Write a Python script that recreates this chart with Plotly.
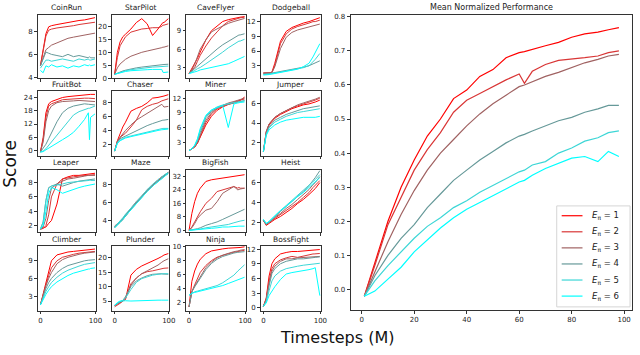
import plotly.graph_objects as go

W, H = 640, 355

# timesteps (M) sampled for the 16 small game panels
XS = [0, 5, 10, 15, 20, 30, 40, 50, 60, 70, 80, 87, 89, 91, 99]

# one list per game, rows are E_pi = 1..6
COINRUN = [
    [5.0, 6.5, 7.8, 8.4, 8.5, 8.6, 8.7, 8.8, 8.85, 8.95, 9.0, 9.05, 9.1, 9.1, 9.2],
    [5.0, 6.3, 7.6, 8.1, 8.2, 8.3, 8.35, 8.45, 8.5, 8.6, 8.65, 8.7, 8.75, 8.75, 8.8],
    [5.0, 5.8, 6.4, 6.6, 6.8, 7.0, 7.2, 7.4, 7.5, 7.6, 7.7, 7.75, 7.8, 7.8, 7.85],
    [5.0, 5.6, 6.2, 6.1, 6.0, 5.9, 5.8, 6.0, 5.8, 5.9, 5.8, 5.7, 5.8, 5.7, 5.7],
    [4.8, 5.2, 5.5, 5.5, 5.4, 5.5, 5.6, 5.5, 5.4, 5.6, 5.5, 5.6, 5.5, 5.5, 5.6],
    [4.6, 4.4, 5.0, 4.9, 5.1, 4.9, 5.0, 4.8, 5.0, 4.9, 5.1, 5.0, 5.1, 5.0, 5.1],
]
STARPILOT = [
    [1.5, 10, 14, 16, 17, 19, 21.5, 23, 21, 16.5, 19, 21, 21.5, 21.5, 23],
    [1.5, 8, 12.5, 14.5, 16, 17.8, 18.5, 19, 19.2, 19.5, 19.5, 20, 20.5, 20.5, 21],
    [1.5, 4, 5.5, 6.5, 7.3, 8.5, 9.3, 10, 10.5, 11, 11.2, 11.8, 12, 12, 12.5],
    [1.5, 2, 2.5, 2.8, 3.1, 3.6, 4.0, 4.3, 4.6, 4.9, 5.1, 5.3, 5.3, 5.3, 5.4],
    [1.5, 1.9, 2.3, 2.6, 2.9, 3.3, 3.6, 3.9, 4.1, 4.3, 4.4, 4.5, 4.6, 4.6, 4.7],
    [1.5, 1.8, 2.1, 2.4, 2.6, 2.9, 3.1, 3.2, 3.3, 3.4, 3.4, 3.4, 2.3, 2.2, 2.4],
]
CAVEFLYER = [
    [2, 2.8, 3.5, 4.5, 5.5, 7.5, 9.0, 9.8, 10.5, 10.8, 11.0, 11.2, 11.2, 11.2, 11.3],
    [2, 2.6, 3.0, 4.0, 5.0, 6.5, 7.8, 8.8, 9.8, 10.5, 10.8, 11.0, 11.0, 11.1, 11.2],
    [2, 2.6, 3.5, 4.7, 6.0, 7.5, 8.8, 9.3, 9.8, 10.2, 10.5, 10.7, 10.8, 10.8, 11.0],
    [2, 2.4, 2.8, 3.2, 3.6, 4.5, 5.3, 6.0, 6.7, 7.3, 7.8, 8.2, 8.3, 8.3, 8.5],
    [2, 2.2, 2.5, 2.8, 3.0, 3.6, 4.2, 4.9, 5.5, 6.2, 6.8, 7.2, 7.3, 7.3, 7.6],
    [2, 2.1, 2.3, 2.4, 2.6, 2.8, 3.0, 3.1, 3.3, 3.6, 4.0, 4.3, 4.4, 4.5, 4.8],
]
DODGEBALL = [
    [1.5, 1.5, 1.5, 1.7, 3.5, 8.0, 10.0, 10.8, 11.3, 11.7, 12.0, 12.3, 12.4, 12.4, 12.8],
    [1.5, 1.5, 1.5, 1.6, 3.0, 7.5, 9.5, 10.5, 11.0, 11.3, 11.7, 12.0, 12.0, 12.0, 12.3],
    [1.5, 1.5, 1.5, 1.6, 2.8, 6.5, 8.8, 9.8, 10.3, 10.6, 11.0, 11.2, 11.3, 11.3, 11.5],
    [1.3, 1.3, 1.4, 1.5, 1.6, 1.8, 2.0, 2.2, 2.4, 2.7, 3.0, 3.4, 3.5, 3.6, 4.0],
    [1.2, 1.2, 1.3, 1.4, 1.5, 1.7, 1.9, 2.1, 2.3, 2.6, 3.0, 3.8, 4.0, 4.3, 5.5],
    [1.1, 1.1, 1.2, 1.3, 1.4, 1.6, 1.8, 2.0, 2.3, 2.8, 3.5, 4.8, 5.2, 5.6, 7.5],
]
FRUITBOT = [
    [-0.5, 6, 17, 21, 22, 23, 23.8, 24.2, 24.5, 24.8, 25, 25.2, 25.2, 25.2, 25.2],
    [-0.5, 5, 15, 20, 21, 22, 22.8, 23, 23.2, 23.5, 23.5, 23.5, 23.5, 23.5, 23.3],
    [-0.5, 4, 13, 18, 20, 21.5, 22, 22, 22.3, 22.5, 22.3, 22, 22, 22, 22],
    [-0.5, 1, 3, 5.5, 8, 13, 17, 19, 20, 20.5, 21, 20.8, 20.8, 20.8, 20.5],
    [-0.5, 0, 1, 2.5, 4, 7, 10, 13, 16, 17.5, 18.5, 19, 19, 19.2, 20],
    [-0.5, -0.3, 0.5, 1.2, 2, 3.5, 5, 6.5, 8.3, 11, 14, 17, 5, 15, 16.5],
]
CHASER = [
    [1.0, 2.5, 3.5, 4.5, 5.2, 6.8, 7.2, 7.5, 8.0, 8.7, 8.8, 9.0, 9.0, 9.0, 9.2],
    [1.0, 2.4, 3.0, 3.3, 3.6, 4.5, 5.5, 7.0, 7.5, 7.8, 8.0, 8.3, 8.3, 8.4, 8.6],
    [1.0, 2.4, 3.0, 3.5, 4.0, 4.8, 5.5, 6.0, 6.5, 7.0, 7.5, 7.8, 7.6, 7.4, 7.5],
    [1.0, 2.3, 2.8, 3.0, 3.2, 3.6, 4.0, 4.4, 4.7, 5.0, 5.3, 5.5, 5.5, 5.5, 5.6],
    [1.0, 2.2, 2.6, 2.8, 3.0, 3.2, 3.4, 3.6, 3.8, 4.0, 4.1, 4.3, 4.3, 4.3, 4.3],
    [1.0, 2.1, 2.5, 2.7, 2.9, 3.1, 3.3, 3.5, 3.7, 3.9, 4.0, 4.1, 4.1, 4.1, 4.2],
]
MINER = [
    [1.3, 1.6, 2.0, 2.8, 4.0, 6.5, 8.3, 9.5, 10.2, 10.7, 11.0, 11.3, 11.4, 11.5, 12.2],
    [1.3, 1.6, 2.0, 2.8, 4.2, 7.0, 8.8, 9.8, 10.3, 10.8, 11.2, 11.4, 11.5, 11.6, 11.8],
    [1.3, 1.6, 2.1, 3.0, 4.5, 7.5, 9.0, 10.0, 10.5, 11.0, 11.3, 11.5, 11.6, 11.7, 12.0],
    [1.3, 1.6, 2.2, 3.2, 5.0, 8.0, 9.3, 10.0, 10.5, 10.8, 11.0, 11.2, 11.3, 11.3, 11.5],
    [1.3, 1.7, 2.3, 3.5, 5.5, 8.3, 9.5, 10.2, 10.6, 10.9, 11.1, 11.2, 11.2, 11.3, 11.4],
    [1.3, 1.7, 2.4, 3.7, 5.8, 8.5, 9.6, 10.1, 10.5, 6.0, 10.8, 11.0, 11.0, 11.1, 11.2],
]
JUMPER = [
    [1.0, 3.0, 3.8, 4.2, 4.5, 4.9, 5.2, 5.5, 5.7, 5.9, 6.0, 6.1, 6.2, 6.2, 6.4],
    [1.0, 3.1, 3.9, 4.3, 4.6, 5.0, 5.3, 5.6, 5.8, 6.0, 6.2, 6.3, 6.3, 6.4, 6.6],
    [1.0, 3.1, 3.9, 4.3, 4.6, 5.0, 5.3, 5.6, 5.9, 6.1, 6.3, 6.4, 6.4, 6.5, 6.7],
    [1.0, 2.9, 3.6, 4.0, 4.3, 4.6, 4.9, 5.1, 5.3, 5.5, 5.6, 5.7, 5.7, 5.7, 5.8],
    [1.0, 2.8, 3.5, 3.8, 4.1, 4.4, 4.7, 4.9, 5.1, 5.2, 5.3, 5.4, 5.4, 5.4, 5.5],
    [1.0, 2.7, 3.3, 3.6, 3.8, 4.1, 4.3, 4.4, 4.5, 4.6, 4.6, 4.6, 4.6, 4.6, 4.7],
]
LEAPER = [
    [1.5, 1.6, 1.8, 2.3, 2.7, 5.0, 8.5, 8.8, 9.0, 9.0, 9.1, 9.2, 9.2, 9.2, 9.3],
    [1.5, 1.6, 2.0, 3.5, 6.0, 7.8, 8.5, 8.7, 8.8, 8.9, 9.0, 9.0, 9.0, 9.1, 9.1],
    [1.5, 1.8, 3.0, 5.5, 7.2, 7.8, 8.2, 8.5, 8.6, 8.8, 8.9, 9.0, 9.0, 9.0, 9.0],
    [1.5, 2.5, 5.5, 7.3, 7.5, 7.8, 7.5, 7.8, 8.0, 8.2, 8.3, 8.4, 8.4, 8.4, 8.5],
    [1.5, 2.5, 5.5, 7.2, 7.5, 7.6, 7.8, 8.0, 8.1, 8.2, 8.3, 8.3, 8.3, 8.3, 8.3],
    [1.5, 2.0, 4.0, 6.5, 7.3, 7.0, 6.5, 6.8, 7.1, 7.3, 7.5, 7.6, 7.6, 7.7, 7.8],
]
MAZE = [
    [3.3, 3.6, 3.8, 4.2, 4.6, 5.3, 6.0, 6.7, 7.3, 7.9, 8.4, 8.8, 8.9, 9.0, 9.3],
    [3.3, 3.5, 3.8, 4.1, 4.5, 5.2, 6.0, 6.6, 7.3, 7.8, 8.4, 8.8, 8.8, 8.9, 9.2],
    [3.4, 3.6, 3.9, 4.2, 4.6, 5.3, 6.1, 6.7, 7.4, 7.9, 8.5, 8.8, 8.9, 9.0, 9.3],
    [3.2, 3.5, 3.8, 4.1, 4.5, 5.2, 5.9, 6.6, 7.2, 7.8, 8.3, 8.7, 8.8, 8.9, 9.2],
    [3.3, 3.6, 3.9, 4.3, 4.7, 5.4, 6.1, 6.8, 7.4, 8.0, 8.5, 8.9, 9.0, 9.0, 9.3],
    [3.2, 3.5, 3.7, 4.1, 4.5, 5.2, 5.9, 6.6, 7.2, 7.8, 8.3, 8.7, 8.8, 8.9, 9.2],
]
BIGFISH = [
    [0, 10, 17, 22, 25, 29, 30, 30.5, 31, 31.5, 32, 32.5, 32.5, 32.8, 33],
    [0, 2, 5, 8, 11, 16, 19, 23, 24, 25, 26, 25, 25.5, 25, 25],
    [0, 1.5, 4, 7, 9, 12, 13, 17, 22, 24, 26, 24, 24.5, 24.5, 25],
    [0, 0.2, 0.5, 1.0, 1.5, 3, 4, 5, 6.5, 8, 9.5, 10.5, 11, 11, 12.5],
    [0, 0.1, 0.3, 0.5, 0.8, 1.5, 2, 2.5, 3, 3.5, 4.5, 5.2, 5.5, 5.5, 6],
    [0, 0.1, 0.2, 0.3, 0.5, 0.8, 1.2, 1.5, 2, 2, 2.5, 2.5, 2.5, 2.5, 2.5],
]
HEIST = [
    [2.2, 1.7, 1.9, 2.1, 2.3, 2.6, 3.0, 3.4, 3.9, 4.3, 4.8, 5.2, 5.3, 5.4, 6.0],
    [2.2, 1.8, 2.0, 2.2, 2.4, 2.8, 3.2, 3.6, 4.0, 4.5, 5.0, 5.5, 5.6, 5.7, 6.2],
    [2.2, 1.8, 2.0, 2.2, 2.5, 2.9, 3.4, 3.8, 4.3, 4.8, 5.3, 5.8, 5.9, 6.0, 6.6],
    [2.2, 1.8, 2.0, 2.3, 2.6, 3.1, 3.6, 4.1, 4.6, 5.1, 5.7, 6.2, 6.4, 6.5, 7.2],
    [2.3, 1.9, 2.1, 2.4, 2.7, 3.2, 3.7, 4.2, 4.7, 5.2, 5.7, 6.1, 6.2, 6.3, 6.8],
    [2.3, 1.9, 2.1, 2.4, 2.7, 3.2, 3.6, 4.1, 4.6, 5.0, 5.5, 5.9, 6.0, 6.1, 6.5],
]
CLIMBER = [
    [1.5, 3.5, 5.5, 7.5, 9.0, 10.0, 10.3, 10.5, 10.6, 10.7, 10.8, 10.9, 10.9, 10.9, 11.0],
    [1.5, 3.3, 5.0, 6.5, 7.8, 9.0, 9.6, 9.9, 10.1, 10.3, 10.4, 10.5, 10.5, 10.5, 10.6],
    [1.5, 3.3, 4.8, 6.0, 7.0, 8.5, 9.2, 9.6, 9.9, 10.1, 10.3, 10.4, 10.4, 10.4, 10.5],
    [1.5, 3.0, 4.3, 5.3, 6.0, 7.0, 7.7, 8.2, 8.5, 8.8, 9.0, 9.1, 9.1, 9.1, 9.2],
    [1.5, 2.8, 3.8, 4.6, 5.3, 6.2, 6.9, 7.4, 7.8, 8.1, 8.4, 8.5, 8.5, 8.6, 8.7],
    [1.5, 2.5, 3.3, 4.0, 4.6, 5.4, 6.0, 6.5, 6.9, 7.2, 7.5, 7.6, 7.6, 7.7, 7.8],
]
PLUNDER = [
    [3.5, 4.0, 4.5, 5.0, 5.5, 14.0, 16.0, 17.2, 18.0, 19.0, 19.8, 20.5, 20.8, 21.0, 21.5],
    [3.0, 3.5, 4.2, 5.0, 6.0, 11.0, 13.0, 14.5, 15.2, 15.5, 16.0, 16.3, 16.3, 16.4, 16.5],
    [3.5, 4.0, 4.5, 5.0, 6.0, 10.5, 13.0, 14.5, 15.5, 16.5, 17.5, 18.5, 18.8, 19.0, 19.7],
    [3.5, 4.2, 4.8, 5.2, 6.5, 10.0, 12.0, 13.0, 13.8, 14.3, 14.5, 14.5, 14.4, 14.4, 14.3],
    [3.5, 4.2, 4.8, 5.2, 6.0, 9.0, 11.5, 12.8, 13.5, 14.0, 14.3, 14.5, 14.5, 14.5, 14.5],
    [3.5, 4.5, 5.0, 5.1, 5.1, 5.0, 5.1, 5.0, 5.1, 5.2, 5.3, 5.3, 5.2, 5.3, 5.3],
]
NINJA = [
    [1.3, 5.0, 6.5, 7.5, 8.2, 9.0, 9.4, 9.6, 9.7, 9.8, 9.8, 9.9, 9.9, 9.9, 10.0],
    [1.3, 3.5, 4.5, 5.5, 6.3, 7.3, 8.0, 8.5, 8.8, 9.0, 9.2, 9.3, 9.3, 9.4, 9.5],
    [1.3, 3.5, 4.3, 5.0, 5.8, 7.0, 7.8, 8.4, 8.8, 9.1, 9.3, 9.4, 9.4, 9.5, 9.6],
    [1.3, 3.5, 4.2, 4.8, 5.5, 6.7, 7.6, 8.2, 8.6, 8.9, 9.1, 9.2, 9.2, 9.3, 9.3],
    [3.0, 3.3, 3.5, 3.6, 3.7, 3.9, 4.1, 4.4, 4.8, 5.3, 5.9, 6.5, 6.6, 6.8, 7.4],
    [3.0, 3.3, 3.4, 3.5, 3.6, 3.8, 3.9, 4.1, 4.4, 4.7, 5.0, 5.3, 5.3, 5.4, 5.6],
]
BOSSFIGHT = [
    [0.3, 2.0, 6.5, 9.0, 10.0, 11.0, 11.3, 11.5, 11.5, 11.6, 11.7, 11.8, 11.8, 11.8, 11.9],
    [0.3, 1.8, 5.5, 8.0, 9.0, 9.8, 10.2, 10.5, 10.3, 10.6, 10.8, 11.0, 11.0, 11.0, 11.1],
    [0.3, 1.7, 5.0, 7.5, 8.5, 9.5, 10.0, 10.0, 10.2, 10.3, 10.4, 10.5, 10.5, 10.5, 10.5],
    [0.3, 1.5, 4.5, 7.0, 8.0, 9.0, 9.5, 9.8, 10.0, 10.0, 10.2, 10.3, 10.3, 10.3, 10.4],
    [0.3, 1.2, 3.5, 5.5, 6.5, 7.5, 8.0, 8.3, 8.5, 8.7, 8.8, 9.0, 9.0, 9.0, 9.1],
    [0.3, 1.0, 2.5, 3.5, 4.3, 5.8, 6.9, 7.2, 7.4, 7.5, 7.8, 8.0, 8.2, 8.2, 2.5],
]

GAMES = ["CoinRun", "StarPilot", "CaveFlyer", "Dodgeball",
         "FruitBot", "Chaser", "Miner", "Jumper",
         "Leaper", "Maze", "BigFish", "Heist",
         "Climber", "Plunder", "Ninja", "BossFight"]
GAME_DATA = [COINRUN, STARPILOT, CAVEFLYER, DODGEBALL,
             FRUITBOT, CHASER, MINER, JUMPER,
             LEAPER, MAZE, BIGFISH, HEIST,
             CLIMBER, PLUNDER, NINJA, BOSSFIGHT]
GAME_YTICKS = [[4, 6, 8], [0, 5, 10, 15, 20], [3, 6, 9], [3, 6, 9, 12],
               [0, 6, 12, 18, 24], [2, 4, 6, 8], [3, 6, 9, 12], [2, 4, 6],
               [2, 4, 6, 8], [4, 6, 8], [0, 8, 16, 24, 32], [2, 4, 6],
               [3, 6, 9], [5, 10, 15, 20], [2, 4, 6, 8, 10], [0, 3, 6, 9, 12]]
GAME_YRANGE = [[3.9, 9.45], [-0.1, 24.5], [1.2, 11.6], [0.4, 13.4],
               [-2.2, 26.6], [0.3, 9.7], [0.2, 13.4], [0.56, 7.33],
               [1.05, 9.8], [2.7, 9.6], [-1.2, 36], [1.0, 7.3],
               [0.5, 11.5], [1.6, 24.1], [0.75, 10.1], [-0.6, 12.6]]

# mean normalized performance
MX = [1, 5, 10, 15, 20, 25, 30, 35, 40, 45, 50, 55, 60, 62, 65, 70, 75, 80, 85, 90, 94, 98]
MEAN_E1 = [-0.02, 0.08, 0.2, 0.3, 0.38, 0.45, 0.5, 0.56, 0.585, 0.625, 0.645, 0.68, 0.695, 0.698, 0.705, 0.715, 0.725, 0.74, 0.75, 0.755, 0.762, 0.768]
MEAN_E2 = [-0.02, 0.07, 0.19, 0.27, 0.35, 0.41, 0.46, 0.52, 0.555, 0.575, 0.595, 0.615, 0.632, 0.605, 0.64, 0.66, 0.672, 0.675, 0.68, 0.685, 0.695, 0.70]
MEAN_E3 = [-0.02, 0.05, 0.14, 0.22, 0.29, 0.35, 0.40, 0.44, 0.48, 0.515, 0.545, 0.57, 0.595, 0.6, 0.61, 0.625, 0.637, 0.65, 0.665, 0.675, 0.685, 0.69]
MEAN_E4 = [-0.02, 0.04, 0.10, 0.15, 0.19, 0.24, 0.28, 0.32, 0.35, 0.38, 0.405, 0.43, 0.45, 0.455, 0.465, 0.48, 0.495, 0.505, 0.52, 0.53, 0.54, 0.54]
MEAN_E5 = [-0.02, 0.025, 0.07, 0.11, 0.15, 0.185, 0.21, 0.24, 0.26, 0.285, 0.305, 0.325, 0.345, 0.35, 0.365, 0.375, 0.40, 0.415, 0.435, 0.445, 0.46, 0.465]
MEAN_E6 = [-0.02, -0.005, 0.03, 0.065, 0.11, 0.145, 0.18, 0.21, 0.235, 0.255, 0.275, 0.295, 0.315, 0.32, 0.335, 0.355, 0.37, 0.385, 0.39, 0.375, 0.405, 0.39]
MEANS = [MEAN_E1, MEAN_E2, MEAN_E3, MEAN_E4, MEAN_E5, MEAN_E6]

LABELS = ["<i>E</i><sub>π</sub> = %d" % k for k in range(1, 7)]
COLORS = ["#ff0000", "#d93636", "#a06262", "#669999", "#3dd6d6", "#00ffff"]

# panel boxes in pixels
COL_PX = [(38, 97), (113, 171), (188, 248), (263, 324)]
ROW_PX = [(12, 77), (90, 156), (170, 234), (248, 314)]
MAIN_X = (354, 638)
MAIN_Y = (12, 313)
# legend box (left, top, right, bottom) and row pitch, pixels
LEG = (562, 207, 636, 310)
LEG_ROW0, LEG_STEP = 217, 16.4

FONT = "DejaVu Sans, Liberation Sans, sans-serif"
AX = "#333333"


def px_dom_x(a, b):
    return [a / W, b / W]


def px_dom_y(top, bottom):
    return [1 - bottom / H, 1 - top / H]


fig = go.Figure()
annotations = []
shapes = []

for i, name in enumerate(GAMES):
    r, c = divmod(i, 4)
    n = i + 1
    xa = "x" if n == 1 else "x%d" % n
    ya = "y" if n == 1 else "y%d" % n
    for k, series in enumerate(GAME_DATA[i]):
        fig.add_trace(go.Scatter(x=XS, y=series, mode="lines", xaxis=xa, yaxis=ya,
                                 line=dict(color=COLORS[k], width=1), showlegend=False,
                                 hoverinfo="skip"))
    common = dict(showline=True, mirror=True, linecolor=AX, linewidth=1, ticks="outside",
                  ticklen=2.5, tickcolor=AX, showgrid=False, zeroline=False,
                  tickfont=dict(size=7, color="#222", family=FONT))
    fig.layout["xaxis" + ("" if n == 1 else str(n))] = dict(
        domain=px_dom_x(*COL_PX[c]), anchor=ya, range=[-5, 101],
        tickvals=[0, 100], showticklabels=(r == 3), **common)
    fig.layout["yaxis" + ("" if n == 1 else str(n))] = dict(
        domain=px_dom_y(*ROW_PX[r]), anchor=xa, range=GAME_YRANGE[i],
        tickvals=GAME_YTICKS[i], **common)
    annotations.append(dict(text=name, xref="paper", yref="paper",
                            x=(COL_PX[c][0] + COL_PX[c][1]) / 2 / W,
                            y=1 - (ROW_PX[r][0] - 7) / H,
                            showarrow=False, xanchor="center", yanchor="middle",
                            font=dict(size=7.5, color="#222", family=FONT)))

# main panel
for k, series in enumerate(MEANS):
    fig.add_trace(go.Scatter(x=MX, y=series, mode="lines", xaxis="x17", yaxis="y17",
                             name=LABELS[k], showlegend=False,
                             line=dict(color=COLORS[k], width=1.2)))

main_common = dict(showline=True, mirror=True, linecolor=AX, linewidth=1, ticks="outside",
                   ticklen=3, tickcolor=AX, showgrid=False, zeroline=False,
                   tickfont=dict(size=7, color="#222", family=FONT))
fig.layout["xaxis17"] = dict(domain=px_dom_x(*MAIN_X), anchor="y17", range=[-4.2, 103],
                             tickvals=[0, 20, 40, 60, 80, 100], ticklabeloverflow="allow",
                             **main_common)
fig.layout["yaxis17"] = dict(domain=px_dom_y(*MAIN_Y), anchor="x17", range=[-0.06, 0.806],
                             tickvals=[0, 0.1, 0.2, 0.3, 0.4, 0.5, 0.6, 0.7, 0.8],
                             tickformat=".1f", **main_common)

# legend drawn by hand so the samples and row pitch match matplotlib's compact one
shapes.append(dict(type="rect", xref="paper", yref="paper",
                   x0=LEG[0] / W, x1=LEG[2] / W, y0=1 - LEG[3] / H, y1=1 - LEG[1] / H,
                   line=dict(color="#d5d5d5", width=1), fillcolor="rgba(255,255,255,0.85)"))
for k, label in enumerate(LABELS):
    yy = 1 - (LEG_ROW0 + k * LEG_STEP) / H
    shapes.append(dict(type="line", xref="paper", yref="paper",
                       x0=567 / W, x1=588 / W, y0=yy, y1=yy,
                       line=dict(color=COLORS[k], width=1.2)))
    annotations.append(dict(text=label, xref="paper", yref="paper", x=596 / W, y=yy,
                            showarrow=False, xanchor="left", yanchor="middle",
                            font=dict(size=8.5, color="#222", family=FONT)))

annotations.append(dict(text="Mean Normalized Performance", xref="paper", yref="paper",
                        x=sum(MAIN_X) / 2 / W, y=1 - 5 / H, showarrow=False,
                        xanchor="center", yanchor="middle",
                        font=dict(size=8, color="#222", family=FONT)))
annotations.append(dict(text="Score", xref="paper", yref="paper", x=10 / W, y=1 - 164 / H,
                        textangle=-90, showarrow=False, xanchor="center", yanchor="middle",
                        font=dict(size=17, color="#111", family=FONT)))
annotations.append(dict(text="Timesteps (M)", xref="paper", yref="paper", x=340 / W,
                        y=1 - 341 / H, showarrow=False, xanchor="center", yanchor="middle",
                        font=dict(size=16, color="#111", family=FONT)))

fig.update_layout(
    width=W, height=H,
    margin=dict(l=0, r=0, t=0, b=0),
    paper_bgcolor="white", plot_bgcolor="white",
    annotations=annotations,
    shapes=shapes,
    showlegend=False,
)

# drop the page's default body margin so the figure sits at the window's corner
fig.write_html("out.html", config={"displayModeBar": False},
               post_script="document.body.style.margin='0';")
